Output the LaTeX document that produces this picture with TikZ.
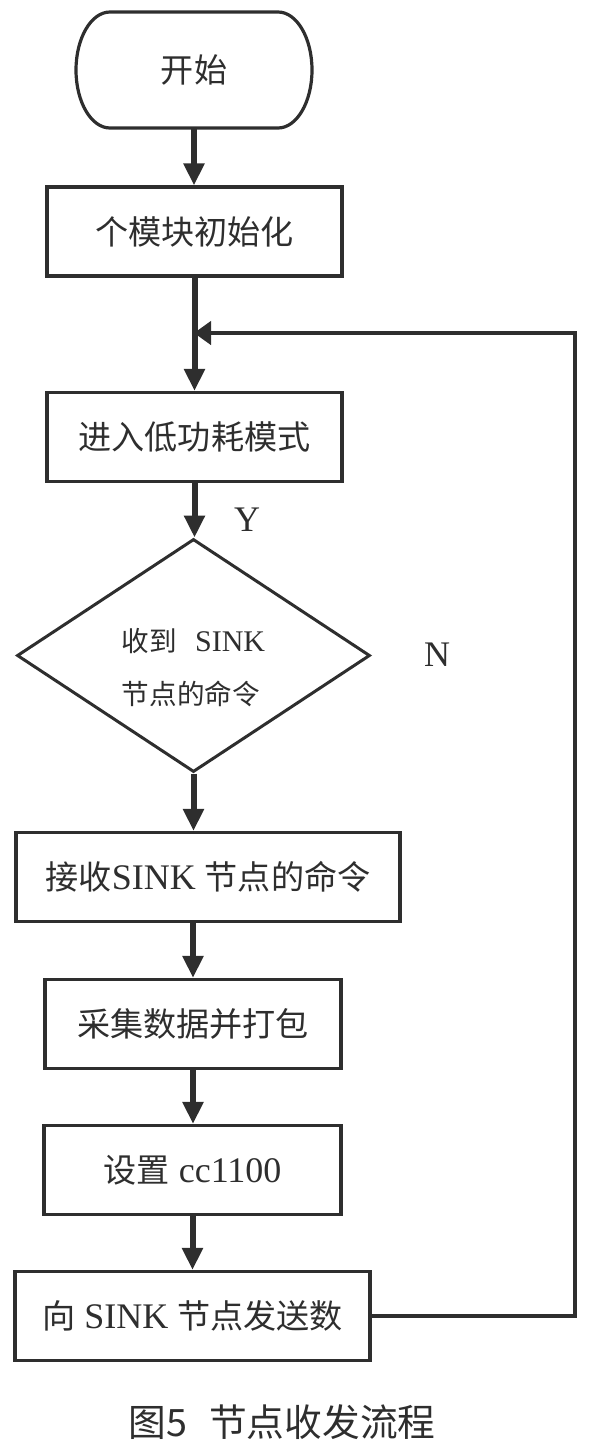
\documentclass[tikz,border=0pt]{standalone}
\usepackage{fontspec}
\setmainfont{Liberation Serif}
\newfontfamily\zh[Scale=0.92]{Noto Sans CJK SC}
\usetikzlibrary{arrows.meta, shapes.geometric}
\definecolor{inkdark}{gray}{0.18}
\tikzset{
  procbox/.style={draw=inkdark, line width=3.2pt, rectangle, inner sep=0pt,
    minimum height=89pt, text=inkdark, font=\fontsize{36}{40}\selectfont},
  termbox/.style={rectangle, inner sep=0pt, outer sep=0pt, minimum width=236pt,
    minimum height=116pt, text=inkdark, font=\fontsize{36}{40}\selectfont},
  outline/.style={draw=inkdark, line width=3.2pt},
  decision/.style={draw=inkdark, line width=3pt, diamond, inner sep=0pt,
    minimum width=353pt, minimum height=233pt, text=inkdark,
    font=\fontsize{30}{53}\selectfont},
  flow/.style={draw=inkdark, line width=6pt, -{Triangle[length=22pt, width=20pt]}},
  backflow/.style={draw=inkdark, line width=4.5pt, -{Triangle[length=17pt, width=23pt]}},
  tag/.style={text=inkdark, font=\fontsize{36}{40}\selectfont}
}

\begin{document}
\begin{tikzpicture}[x=1pt, y=-1pt]
  \useasboundingbox (0,0) rectangle (591,1454);
  % nodes
  \node[termbox] (start) at (194,70) {\zh 开始};
  \draw[outline] ([xshift=34pt]start.north west) -- ([xshift=-34pt]start.north east)
    arc[start angle=90, end angle=-90, x radius=34pt, y radius=58pt]
    -- ([xshift=34pt]start.south west)
    arc[start angle=270, end angle=90, x radius=34pt, y radius=58pt] -- cycle;
  \node[procbox, minimum width=295pt] (init) at (194.5,231.5) {\zh 个模块初始化};
  \node[procbox, minimum width=295pt] (lowpw) at (194.5,437) {\zh 进入低功耗模式};
  \node[decision] (dec) at (193.5,655.5) {\raisebox{-18pt}[0pt][0pt]{%
    \begin{tabular}{@{}l@{}}{\zh 收到}\hspace{18pt}SINK\\{\zh 节点的命令}\end{tabular}}};
  \node[procbox, minimum width=384pt] (recv) at (208,877) {{\zh 接收}SINK {\zh 节点的命令}};
  \node[procbox, minimum width=296pt] (pack) at (193,1024) {\zh 采集数据并打包};
  \node[procbox, minimum width=297pt] (setcc) at (192.5,1170) {{\zh 设置} cc1100};
  \node[procbox, minimum width=355pt] (send) at (192.5,1316) {{\zh 向} SINK {\zh 节点发送数}};
  \node[tag] (ylab) at (247,520) {Y};
  \node[tag] (nlab) at (437,655) {N};
  \node[text=inkdark, font=\fontsize{41}{44}\selectfont] (caption) at (282,1422)
    {\zh 图5\hspace{22pt}节点收发流程};
  \coordinate (merge) at (194,333);
  \coordinate (rtop) at (575,333);
  % arrows
  \draw[flow] (start.south) -- (start.south |- init.north);
  \draw[flow] (init.south) -- (init.south |- lowpw.north);
  \draw[flow] (lowpw.south) -- (lowpw.south |- dec.north);
  \draw[flow] (dec.south) -- (dec.south |- recv.north);
  \draw[flow] (pack.north |- recv.south) -- (pack.north);
  \draw[flow] (pack.south) -- (pack.south |- setcc.north);
  \draw[flow] (setcc.south) -- (setcc.south |- send.north);
  % back to low power mode
  \draw[backflow] (send.east) -- (send.east -| rtop) -- (rtop) -- (merge);
\end{tikzpicture}
\end{document}
